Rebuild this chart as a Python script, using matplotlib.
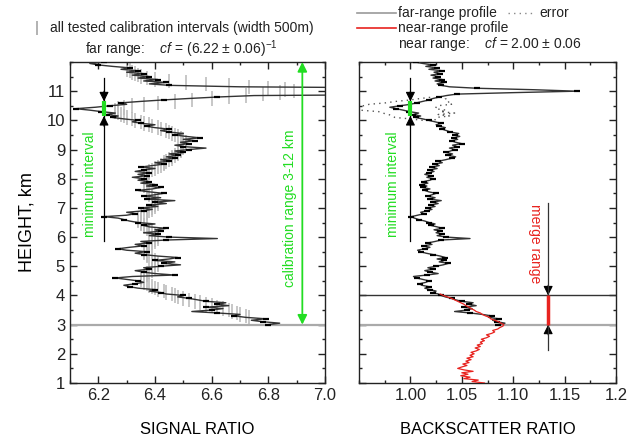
import numpy as np
import matplotlib
matplotlib.use("Agg")
import matplotlib.pyplot as plt
from matplotlib.lines import Line2D
from matplotlib.ticker import MultipleLocator, FixedLocator, FixedFormatter

plt.rcParams["font.family"] = ["Liberation Sans", "DejaVu Sans"]
plt.rcParams["mathtext.fontset"] = "custom"
plt.rcParams["mathtext.rm"] = "Liberation Sans"
plt.rcParams["mathtext.it"] = "Liberation Sans:italic"

# ---------------------------------------------------------------- data
# far-range profiles sampled every 50 m from 3.0 km to 12.0 km
far_start, far_step = 3.0, 0.05

signal_ratio = [
    6.80, 6.84, 6.78, 6.74, 6.79, 6.72, 6.68, 6.70, 6.62, 6.53,   # 3.0
    6.60, 6.64, 6.58, 6.66, 6.62, 6.65, 6.58, 6.55, 6.52, 6.48,   # 3.5
    6.50, 6.44, 6.42, 6.38, 6.40, 6.34, 6.31, 6.29, 6.33, 6.36,   # 4.0
    6.34, 6.30, 6.26, 6.32, 6.47, 6.40, 6.36, 6.33, 6.38, 6.36,   # 4.5
    6.42, 6.49, 6.43, 6.47, 6.40, 6.45, 6.48, 6.41, 6.36, 6.33,   # 5.0
    6.37, 6.30, 6.27, 6.31, 6.36, 6.33, 6.38, 6.35, 6.44, 6.62,   # 5.5
    6.45, 6.38, 6.41, 6.36, 6.42, 6.40, 6.44, 6.38, 6.36, 6.40,   # 6.0
    6.34, 6.31, 6.29, 6.27, 6.22, 6.30, 6.33, 6.30, 6.36, 6.39,   # 6.5
    6.35, 6.41, 6.38, 6.44, 6.40, 6.47, 6.37, 6.42, 6.36, 6.40,   # 7.0
    6.43, 6.38, 6.34, 6.39, 6.42, 6.37, 6.40, 6.35, 6.38, 6.34,   # 7.5
    6.36, 6.32, 6.37, 6.34, 6.38, 6.33, 6.36, 6.40, 6.35, 6.39,   # 8.0
    6.43, 6.40, 6.45, 6.42, 6.47, 6.44, 6.48, 6.45, 6.50, 6.47,   # 8.5
    6.52, 6.58, 6.50, 6.47, 6.52, 6.49, 6.54, 6.50, 6.56, 6.51,   # 9.0
    6.47, 6.50, 6.45, 6.42, 6.45, 6.40, 6.37, 6.40, 6.35, 6.32,   # 9.5
    6.34, 6.29, 6.25, 6.27, 6.23, 6.26, 6.21, 6.17, 6.12, 6.19,   # 10.0
    6.24, 6.30, 6.28, 6.35, 6.43, 6.52, 6.62, 6.75, 7.60, 8.40,   # 10.5
    7.60, 7.05, 7.50, 6.70, 6.45, 6.38, 6.44, 6.36, 6.41, 6.34,   # 11.0
    6.38, 6.32, 6.36, 6.30, 6.34, 6.28, 6.31, 6.25, 6.20, 6.17,   # 11.5
    6.22,                                                         # 12.0
]

# mean signal ratio of each tested 500 m interval, interval centres every 50 m
# from 3.25 km to 11.75 km
interval_start = 3.25
interval_mean = [
    6.73, 6.72, 6.70, 6.69, 6.67, 6.66, 6.64, 6.62, 6.60, 6.58,   # 3.25
    6.56, 6.54, 6.52, 6.50, 6.48,                                 # 3.75
    6.47, 6.46, 6.44, 6.43, 6.41, 6.40, 6.39, 6.38, 6.37, 6.36,   # 4.0
    6.36, 6.35, 6.35, 6.36, 6.37, 6.37, 6.38, 6.39, 6.39, 6.40,   # 4.5
    6.40, 6.41, 6.41, 6.40, 6.40, 6.39, 6.38, 6.37, 6.37, 6.36,   # 5.0
    6.36, 6.36, 6.37, 6.38, 6.38, 6.39, 6.39, 6.40, 6.40, 6.41,   # 5.5
    6.41, 6.40, 6.40, 6.39, 6.38, 6.38, 6.37, 6.36, 6.36, 6.35,   # 6.0
    6.35, 6.34, 6.34, 6.35, 6.35, 6.36, 6.37, 6.37, 6.38, 6.39,   # 6.5
    6.39, 6.40, 6.40, 6.41, 6.41, 6.40, 6.40, 6.39, 6.39, 6.38,   # 7.0
    6.38, 6.38, 6.37, 6.37, 6.37, 6.36, 6.36, 6.36, 6.36, 6.36,   # 7.5
    6.36, 6.36, 6.37, 6.37, 6.38, 6.38, 6.39, 6.40, 6.41, 6.42,   # 8.0
    6.43, 6.43, 6.44, 6.45, 6.46, 6.46, 6.47, 6.48, 6.48, 6.49,   # 8.5
    6.49, 6.50, 6.50, 6.50, 6.51, 6.51, 6.50, 6.50, 6.49, 6.48,   # 9.0
    6.47, 6.46, 6.45, 6.44, 6.42, 6.41, 6.39, 6.38, 6.36, 6.35,   # 9.5
    6.33, 6.32, 6.30, 6.29, 6.28, 6.27, 6.26, 6.26, 6.27, 6.29,   # 10.0
    6.32, 6.36, 6.41, 6.47, 6.53, 6.60, 6.66, 6.72, 6.78, 6.84,   # 10.5
    6.89, 6.86, 6.80, 6.73, 6.66, 6.58, 6.51, 6.45, 6.40, 6.37,   # 11.0
    6.35, 6.34, 6.33, 6.32, 6.31, 6.30,                           # 11.5
]

backscatter_far = [
    1.085, 1.092, 1.084, 1.080, 1.086, 1.076, 1.079, 1.070, 1.058, 1.043,  # 3.0
    1.055, 1.060, 1.052, 1.064, 1.057, 1.061, 1.050, 1.044, 1.040, 1.034,  # 3.5
    1.030, 1.027, 1.022, 1.025, 1.019, 1.014, 1.018, 1.011, 1.009, 1.015,  # 4.0
    1.018, 1.012, 1.006, 1.003, 1.016, 1.027, 1.019, 1.014, 1.022, 1.017,  # 4.5
    1.025, 1.032, 1.037, 1.028, 1.033, 1.026, 1.034, 1.029, 1.022, 1.015,  # 5.0
    1.010, 1.007, 1.014, 1.019, 1.013, 1.021, 1.017, 1.024, 1.030, 1.058,  # 5.5
    1.035, 1.026, 1.031, 1.025, 1.029, 1.023, 1.031, 1.026, 1.020, 1.024,  # 6.0
    1.018, 1.014, 1.008, 1.004, 1.001, 1.007, 1.013, 1.010, 1.016, 1.021,  # 6.5
    1.017, 1.024, 1.020, 1.027, 1.022, 1.030, 1.019, 1.024, 1.017, 1.021,  # 7.0
    1.025, 1.018, 1.014, 1.019, 1.012, 1.016, 1.011, 1.017, 1.013, 1.019,  # 7.5
    1.022, 1.016, 1.020, 1.014, 1.018, 1.023, 1.019, 1.026, 1.021, 1.028,  # 8.0
    1.024, 1.031, 1.027, 1.034, 1.040, 1.044, 1.037, 1.041, 1.035, 1.039,  # 8.5
    1.043, 1.038, 1.045, 1.041, 1.050, 1.044, 1.040, 1.046, 1.042, 1.048,  # 9.0
    1.043, 1.047, 1.039, 1.035, 1.031, 1.034, 1.028, 1.025, 1.030, 1.024,  # 9.5
    1.018, 1.012, 1.005, 1.010, 1.003, 1.008, 0.999, 0.993, 0.986, 0.980,  # 10.0
    0.990, 1.000, 1.006, 1.012, 1.018, 1.022, 1.028, 1.035, 1.045, 1.100,  # 10.5
    1.162, 1.120, 1.065, 1.038, 1.030, 1.026, 1.033, 1.024, 1.031, 1.022,  # 11.0
    1.027, 1.020, 1.029, 1.023, 1.031, 1.018, 1.026, 1.015, 1.022, 1.012,  # 11.5
    1.005,                                                                 # 12.0
]

# uncertainty of the far-range backscatter ratio around the cloud base
err_start = 10.0
backscatter_err = [0.006, 0.012, 0.020, 0.028, 0.024, 0.035, 0.030, 0.042, 0.038,
                   0.045, 0.036, 0.040, 0.030, 0.026, 0.018, 0.012, 0.006]

# near-range profile sampled every 50 m from 1.0 km to 4.05 km
near_start = 1.0
backscatter_near = [
    1.072, 1.060, 1.066, 1.052, 1.058, 1.049, 1.056, 1.050, 1.061, 1.052,  # 1.0
    1.046, 1.050, 1.055, 1.051, 1.057, 1.054, 1.059, 1.055, 1.061, 1.058,  # 1.5
    1.062, 1.059, 1.064, 1.067, 1.063, 1.068, 1.065, 1.070, 1.068, 1.072,  # 2.0
    1.069, 1.074, 1.077, 1.074, 1.079, 1.082, 1.080, 1.085, 1.087, 1.090,  # 2.5
    1.091, 1.088, 1.086, 1.082, 1.078, 1.077, 1.073, 1.070, 1.068, 1.064,  # 3.0
    1.062, 1.059, 1.057, 1.054, 1.052, 1.049, 1.046, 1.043, 1.040, 1.036,  # 3.5
    1.032, 1.029,                                                          # 4.0
]

left_xticks = [6.2, 6.4, 6.6, 6.8, 7.0]
left_xlabels = ["6.2", "6.4", "6.6", "6.8", "7.0"]
right_xticks = [1.00, 1.05, 1.10, 1.15, 1.20]
right_xlabels = ["1.00", "1.05", "1.10", "1.15", "1.2"]
height_ticks = list(range(1, 12))

cal_width = 0.5           # km, calibration interval length
cal_range = (3.0, 12.0)   # km
cf_far, cf_near = 6.22, 1.00
min_interval = (10.15, 10.65)
merge_range = (3.0, 4.0)

# ---------------------------------------------------------------- derived arrays
h_far = far_start + far_step * np.arange(len(signal_ratio))
h_err = err_start + far_step * np.arange(len(backscatter_err))
h_near = near_start + far_step * np.arange(len(backscatter_near))
centers = interval_start + far_step * np.arange(len(interval_mean))
sig = np.array(signal_ratio)
bsr = np.array(backscatter_far)
i0 = int(round((err_start - far_start) / far_step))
bsr_err_base = bsr[i0:i0 + len(backscatter_err)]
err = np.array(backscatter_err)

# ---------------------------------------------------------------- figure
W, H = 628, 441
fig = plt.figure(figsize=(W / 100, H / 100), dpi=100)
axL = fig.add_axes([70 / W, 58 / H, 255 / W, 321 / H])
axR = fig.add_axes([359 / W, 58 / H, 257 / W, 321 / H])

GREEN = "#22dd22"
RED = "#e8231f"
PROFILE = "#333333"


def style_axes(ax):
    ax.set_ylim(1, 12)
    ax.yaxis.set_major_locator(FixedLocator(height_ticks))
    ax.yaxis.set_minor_locator(MultipleLocator(0.5))
    ax.tick_params(which="both", direction="in", top=True, right=True,
                   width=1.0, labelsize=12, colors="#222222")
    ax.tick_params(which="major", length=5)
    ax.tick_params(which="minor", length=2.5)
    for s in ax.spines.values():
        s.set_linewidth(1.0)
        s.set_color("#222222")


def arrow_head(ax, x, tip, direction, length):
    ax.annotate("", xy=(x, tip), xytext=(x, tip + direction * length),
                arrowprops=dict(arrowstyle="-|>", color="k", lw=0.8,
                                mutation_scale=14, shrinkA=0, shrinkB=0))


def min_interval_marker(ax, x, y_low, y_top):
    ax.plot([x, x], [y_low, y_top], color="k", lw=0.9, zorder=4)
    arrow_head(ax, x, min_interval[1], +1, 0.35)
    arrow_head(ax, x, min_interval[0], -1, 0.35)
    ax.plot([x, x], list(min_interval), color=GREEN, lw=3, zorder=6,
            solid_capstyle="butt")


# ---- left panel: signal ratio
style_axes(axL)
axL.set_xlim(6.1, 7.0)
axL.xaxis.set_major_locator(FixedLocator(left_xticks))
axL.xaxis.set_major_formatter(FixedFormatter(left_xlabels))
axL.xaxis.set_minor_locator(MultipleLocator(0.1))
axL.vlines(interval_mean, centers - cal_width / 2, centers + cal_width / 2,
           color="#bdbdbd", lw=1.2, zorder=1)
axL.axhline(3.0, color="#aaaaaa", lw=1.6, zorder=2)
axL.plot(sig, h_far, color=PROFILE, lw=1.0, zorder=3)
axL.plot(sig[::2], h_far[::2], ls="none", marker="_", ms=5, mew=1.6,
         color="k", zorder=3)
min_interval_marker(axL, cf_far, 5.85, 11.45)
axL.annotate("", xy=(6.92, cal_range[1]), xytext=(6.92, cal_range[0]),
             arrowprops=dict(arrowstyle="<|-|>", color=GREEN, lw=1.3,
                             mutation_scale=14, shrinkA=0, shrinkB=0), zorder=5)
axL.text(6.875, 7.0, "calibration range 3-12 km", rotation=90, color=GREEN,
         fontsize=10, ha="center", va="center")
axL.text(6.17, 7.8, "minimum interval", rotation=90, color=GREEN,
         fontsize=10, ha="center", va="center")
axL.set_ylabel("HEIGHT, km", fontsize=13, labelpad=8)
axL.set_xlabel("SIGNAL RATIO", fontsize=12, labelpad=14)

# ---- right panel: backscatter ratio
style_axes(axR)
axR.tick_params(labelleft=False)
axR.set_xlim(0.95, 1.2)
axR.xaxis.set_major_locator(FixedLocator(right_xticks))
axR.xaxis.set_major_formatter(FixedFormatter(right_xlabels))
axR.xaxis.set_minor_locator(MultipleLocator(0.025))
axR.axhline(merge_range[0], color="#aaaaaa", lw=1.6, zorder=2)
axR.axhline(merge_range[1], color="#333333", lw=1.0, zorder=2)
axR.plot(bsr_err_base - err, h_err, ls=(0, (1, 3)), color="#555555", lw=1.0, zorder=3)
axR.plot(bsr_err_base + err, h_err, ls=(0, (1, 3)), color="#555555", lw=1.0, zorder=3)
axR.plot(bsr, h_far, color=PROFILE, lw=1.0, zorder=3)
axR.plot(bsr[::2], h_far[::2], ls="none", marker="_", ms=5, mew=1.6,
         color="k", zorder=3)
axR.plot(backscatter_near, h_near, color=RED, lw=0.9, zorder=4)
min_interval_marker(axR, cf_near, 5.85, 11.45)
axR.text(0.983, 7.8, "minimum interval", rotation=90, color=GREEN,
         fontsize=10, ha="center", va="center")
xm = 1.134
axR.plot([xm, xm], [2.14, 7.17], color="#333333", lw=0.9, zorder=4)
arrow_head(axR, xm, merge_range[1], +1, 0.35)
arrow_head(axR, xm, merge_range[0], -1, 0.35)
axR.plot([xm, xm], list(merge_range), color=RED, lw=2.5, zorder=6,
         solid_capstyle="butt")
axR.text(1.121, 5.77, "merge range", rotation=270, color=RED,
         fontsize=10, ha="center", va="center")
axR.set_xlabel("BACKSCATTER RATIO", fontsize=12, labelpad=14)

# ---------------------------------------------------------------- header texts
def fx(px):
    return px / W


def fy(py):
    return 1 - py / H


fig.text(fx(35), fy(28), "|", color="#888888", fontsize=11, va="center")
fig.text(fx(50), fy(28), "all tested calibration intervals (width 500m)",
         fontsize=10, va="center", color="#222222")
fig.text(fx(85), fy(49), r"far range:    $cf$ = (6.22 $\pm$ 0.06)$^{-1}$",
         fontsize=10, va="center", color="#222222")

fig.add_artist(Line2D([fx(357), fx(396)], [fy(13), fy(13)], color="#999999",
                      lw=1.2, transform=fig.transFigure))
fig.text(fx(398), fy(13), "far-range profile", fontsize=10, va="center",
         color="#222222")
fig.add_artist(Line2D([fx(508), fx(532)], [fy(13), fy(13)], color="#888888",
                      lw=1.0, ls=(0, (1, 3)), transform=fig.transFigure))
fig.text(fx(539), fy(13), "error", fontsize=10, va="center", color="#222222")
fig.add_artist(Line2D([fx(357), fx(396)], [fy(28), fy(28)], color=RED,
                      lw=1.2, transform=fig.transFigure))
fig.text(fx(398), fy(28), "near-range profile", fontsize=10, va="center",
         color="#222222")
fig.text(fx(398), fy(44), r"near range:    $cf$ = 2.00 $\pm$ 0.06",
         fontsize=10, va="center", color="#222222")

fig.savefig("out.png", dpi=100)
